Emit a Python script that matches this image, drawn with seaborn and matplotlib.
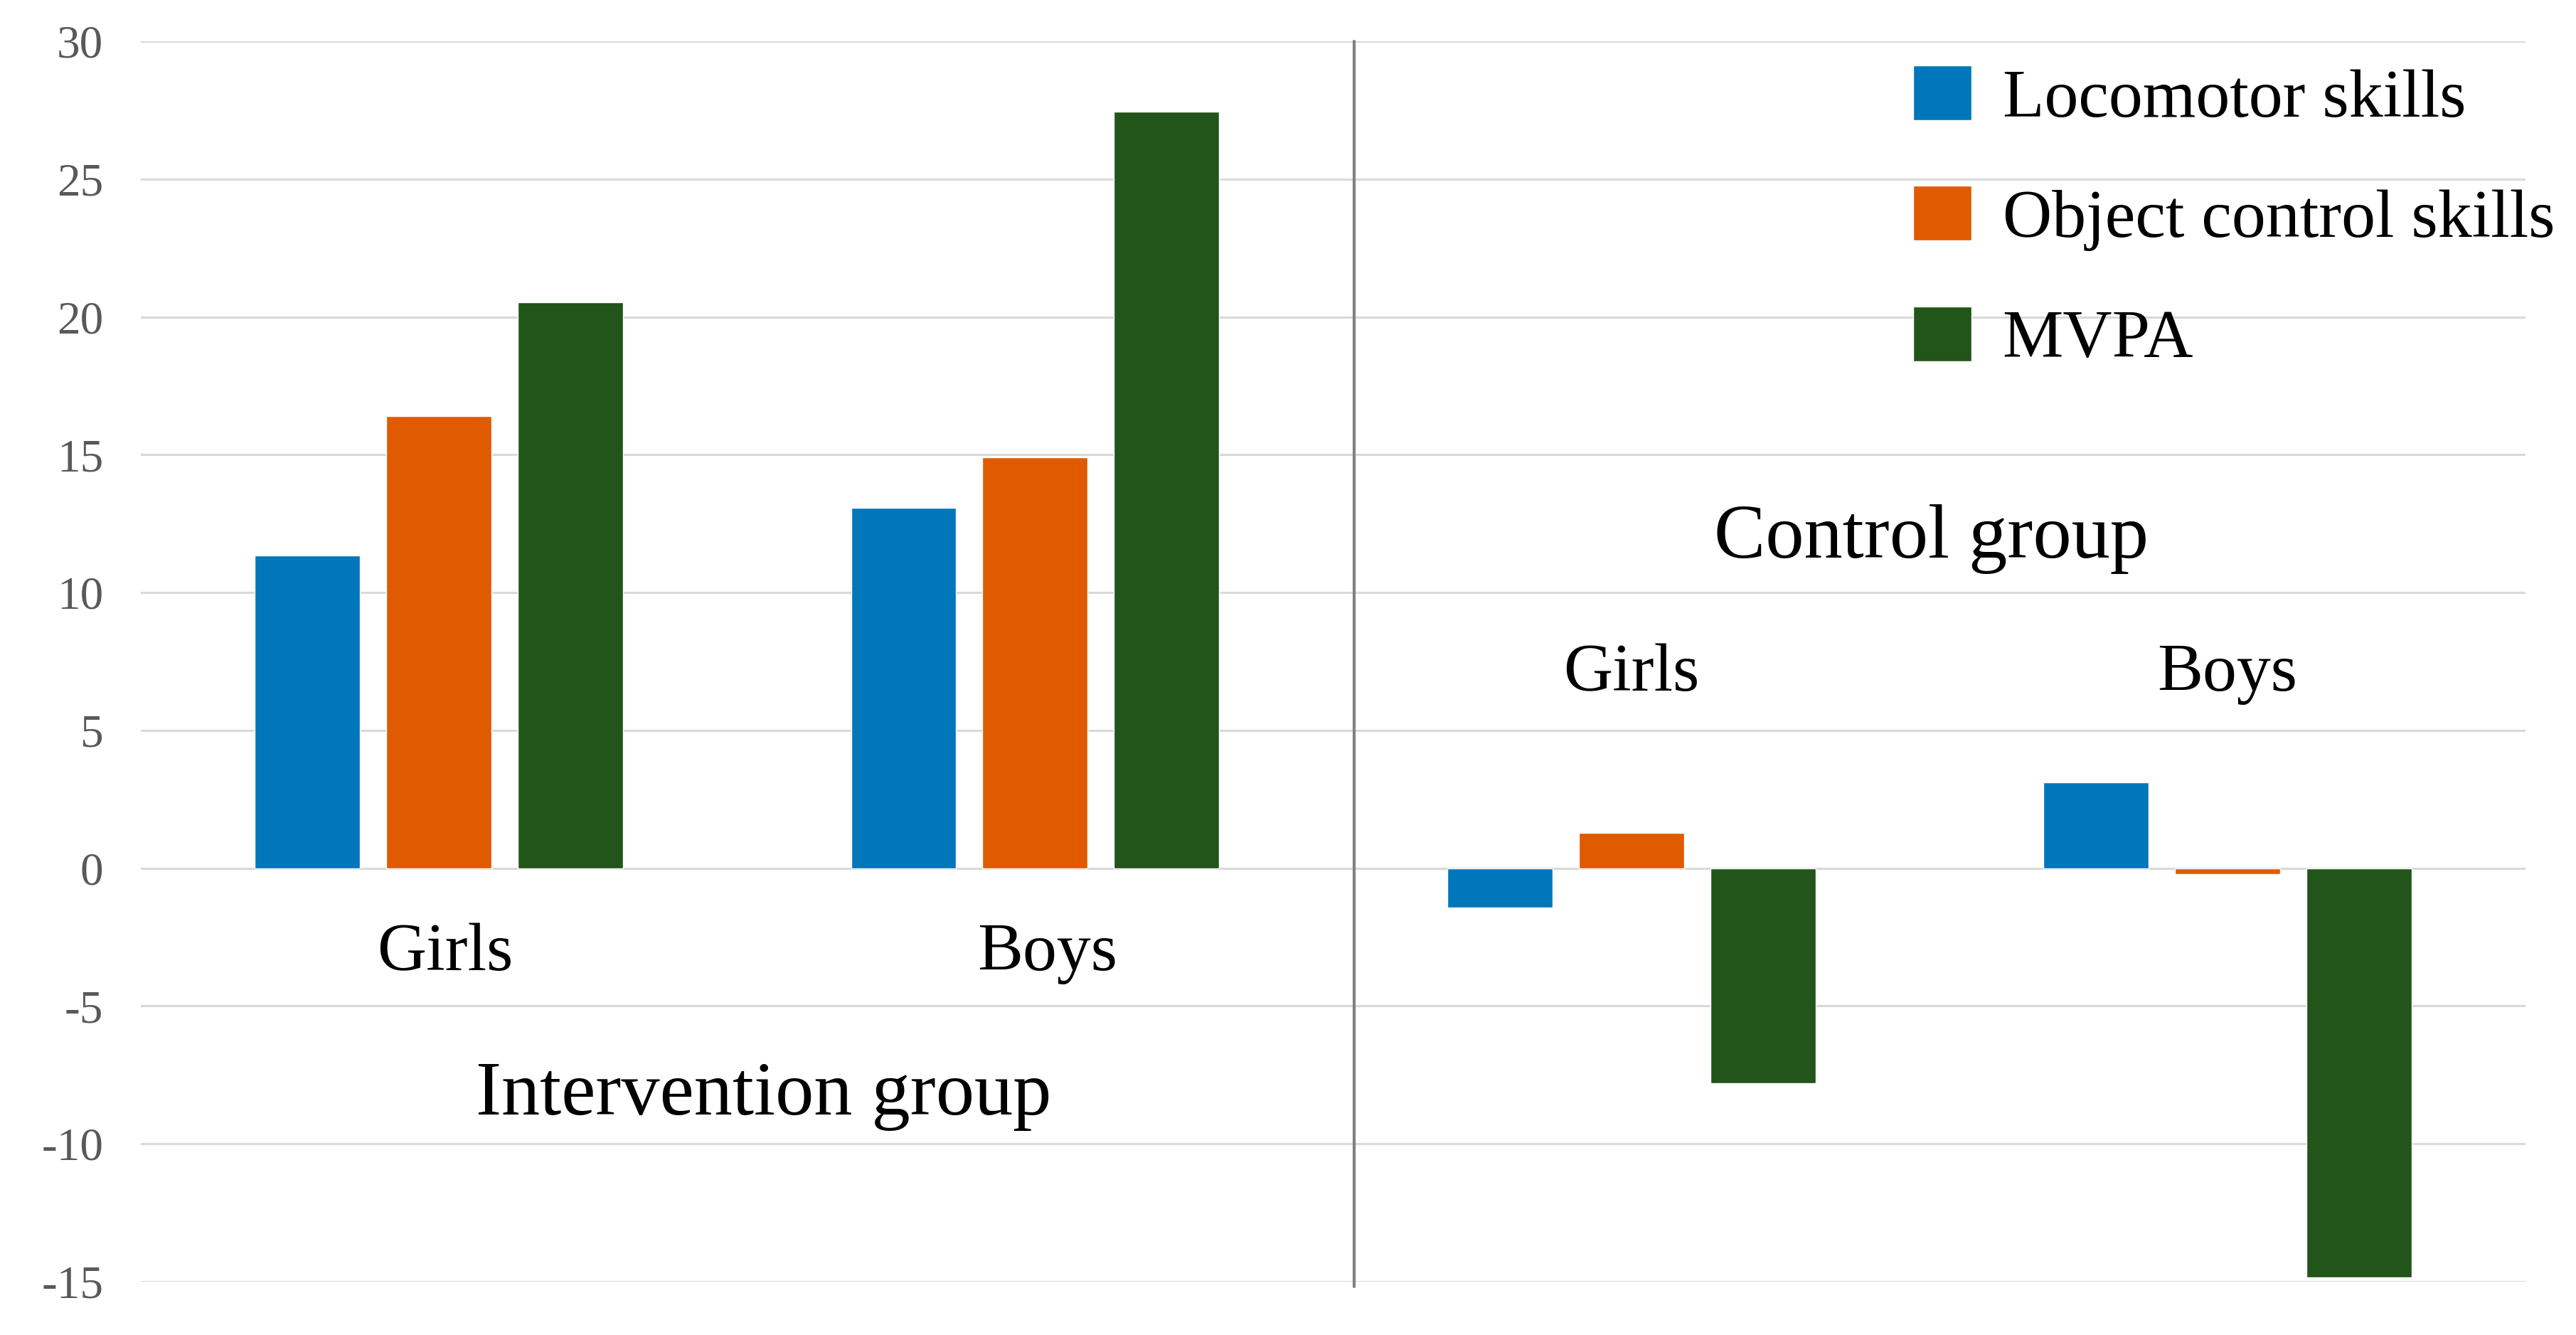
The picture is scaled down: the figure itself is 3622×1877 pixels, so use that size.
import matplotlib
matplotlib.use("Agg")
import matplotlib.pyplot as plt
import seaborn as sns
import pandas as pd

# ---- data ----
cells = ["Intervention Girls", "Intervention Boys", "Control Girls", "Control Boys"]
cell_labels = ["Girls", "Boys", "Girls", "Boys"]
group_labels = ["Intervention group", "Control group"]
measures = ["Locomotor skills", "Object control skills", "MVPA"]
locomotor = [11.35, 13.07, -1.42, 3.10]
object_control = [16.40, 14.90, 1.27, -0.22]
mvpa = [20.54, 27.44, -7.80, -14.86]
colors = ["#0077BB", "#E05A00", "#225519"]
y_ticks = [30, 25, 20, 15, 10, 5, 0, -5, -10, -15]

rows = []
for m, vals in zip(measures, [locomotor, object_control, mvpa]):
    for c, v in zip(cells, vals):
        rows.append({"cell": c, "measure": m, "value": v})
df = pd.DataFrame(rows)

sns.set_theme(style="white")
plt.rcParams["font.family"] = ["Liberation Serif", "DejaVu Serif"]

fig = plt.figure(figsize=(36.22, 18.77), dpi=100)
ax = fig.add_axes([0.0547, 0.0400, 0.9804 - 0.0547, 0.9691 - 0.0400])

sns.barplot(data=df, x="cell", y="value", hue="measure", order=cells,
            hue_order=measures, palette=colors, saturation=1,
            width=0.662, gap=0.2, errorbar=None, ax=ax, zorder=3)

ax.set_xlim(-0.5, 3.5)
ax.set_ylim(-15, 30)
ax.set_yticks(y_ticks)
ax.set_yticklabels([str(t) for t in y_ticks])
ax.tick_params(axis="y", labelsize=47, labelcolor="#595959", length=0, pad=38)
ax.set_xticks([])
ax.set_xlabel("")
ax.set_ylabel("")
for s in ax.spines.values():
    s.set_visible(False)
ax.grid(axis="y", color="#D9D9D9", linewidth=2.2, zorder=0)
ax.set_axisbelow(True)

# divider
ax.axvline(1.535, ymin=-0.004, ymax=1.0, color="#808080", linewidth=3, clip_on=False, zorder=4)

# subgroup labels
ax.text(0.01, -3.7, cell_labels[0], ha="center", va="baseline", fontsize=69, color="black")
ax.text(1.02, -3.7, cell_labels[1], ha="center", va="baseline", fontsize=69, color="black")
ax.text(2.0, 6.45, cell_labels[2], ha="center", va="baseline", fontsize=69, color="black")
ax.text(3.0, 6.45, cell_labels[3], ha="center", va="baseline", fontsize=69, color="black")
ax.text(0.545, -8.95, group_labels[0], ha="center", va="baseline", fontsize=78, color="black")
ax.text(2.503, 11.26, group_labels[1], ha="center", va="baseline", fontsize=78, color="black")

leg = ax.legend(loc="upper left", bbox_to_anchor=(2690 / 3622, 1 - 92 / 1877),
                bbox_transform=fig.transFigure, frameon=False, fontsize=69,
                handlelength=0.86, handleheight=0.86, handletextpad=0.45,
                labelspacing=0.81, borderpad=0, borderaxespad=0)
for t in leg.get_texts():
    t.set_color("black")

fig.savefig("out.png", dpi=100, facecolor="white")
